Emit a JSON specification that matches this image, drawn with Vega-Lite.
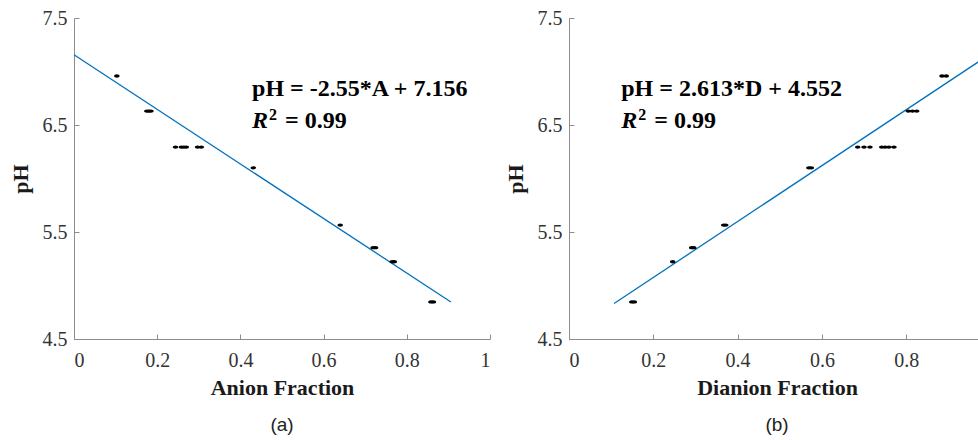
{
  "$schema": "https://vega.github.io/schema/vega-lite/v6.json",
  "padding": {"left": 9, "top": 8, "right": 0, "bottom": 0},
  "background": "white",
  "spacing": 13,
  "config": {
    "view": {"stroke": null},
    "font": "Liberation Serif",
    "axis": {
      "grid": false,
      "domainColor": "#8c8c8c",
      "tickColor": "#8c8c8c",
      "tickSize": -5,
      "labelFont": "Liberation Serif",
      "labelFontSize": 20,
      "labelColor": "#333333",
      "titleFont": "Liberation Serif",
      "titleFontSize": 22,
      "titleFontWeight": "bold",
      "titleColor": "#1a1a1a"
    },
    "title": {"font": "Liberation Sans", "fontSize": 19, "fontWeight": "normal", "color": "#222222", "orient": "bottom", "offset": 18}
  },
  "datasets": {
    "anion": [
      {"A": 0.103, "pH": 6.958},
      {"A": 0.175, "pH": 6.63}, {"A": 0.180, "pH": 6.63}, {"A": 0.185, "pH": 6.63},
      {"A": 0.244, "pH": 6.294}, {"A": 0.258, "pH": 6.294}, {"A": 0.264, "pH": 6.294}, {"A": 0.270, "pH": 6.294},
      {"A": 0.297, "pH": 6.294}, {"A": 0.306, "pH": 6.294},
      {"A": 0.431, "pH": 6.10},
      {"A": 0.640, "pH": 5.565},
      {"A": 0.719, "pH": 5.353}, {"A": 0.725, "pH": 5.353},
      {"A": 0.765, "pH": 5.222}, {"A": 0.770, "pH": 5.222},
      {"A": 0.858, "pH": 4.846}, {"A": 0.864, "pH": 4.846}
    ],
    "fitA": [{"A": 0, "pH": 7.156}, {"A": 0.906, "pH": 4.846}],
    "dianion": [
      {"D": 0.149, "pH": 4.846}, {"D": 0.155, "pH": 4.846},
      {"D": 0.246, "pH": 5.222},
      {"D": 0.291, "pH": 5.353}, {"D": 0.296, "pH": 5.353},
      {"D": 0.367, "pH": 5.565}, {"D": 0.372, "pH": 5.565},
      {"D": 0.569, "pH": 6.10}, {"D": 0.575, "pH": 6.10},
      {"D": 0.685, "pH": 6.294}, {"D": 0.700, "pH": 6.294}, {"D": 0.714, "pH": 6.294},
      {"D": 0.742, "pH": 6.294}, {"D": 0.750, "pH": 6.294}, {"D": 0.759, "pH": 6.294}, {"D": 0.771, "pH": 6.294},
      {"D": 0.805, "pH": 6.63}, {"D": 0.815, "pH": 6.63}, {"D": 0.825, "pH": 6.63},
      {"D": 0.885, "pH": 6.958}, {"D": 0.895, "pH": 6.958}
    ],
    "fitD": [{"D": 0.107, "pH": 4.832}, {"D": 0.987, "pH": 7.131}],
    "one": [{}]
  },
  "hconcat": [
    {
      "width": 416,
      "height": 321,
      "title": {"text": "(a)"},
      "layer": [
        {
          "data": {"name": "fitA"},
          "mark": {"type": "line", "color": "#0072BD", "strokeWidth": 1.3},
          "encoding": {
            "x": {"field": "A", "type": "quantitative", "scale": {"domain": [0, 1], "nice": false},
                  "axis": {"title": "Anion Fraction", "values": [0, 0.2, 0.4, 0.6, 0.8, 1], "format": "~g", "labelFont": "Liberation Serif", "labelPadding": 16, "titlePadding": 7}},
            "y": {"field": "pH", "type": "quantitative", "scale": {"domain": [4.5, 7.5], "nice": false, "zero": false},
                  "axis": {"title": "pH", "values": [4.5, 5.5, 6.5, 7.5], "format": ".1f", "labelFont": "Liberation Serif", "labelPadding": 12, "titlePadding": 10}}
          }
        },
        {
          "data": {"name": "anion"},
          "mark": {"type": "point", "filled": true, "color": "black", "opacity": 1, "size": 30,
                   "shape": "M -1 0 A 1 0.6 0 1 0 1 0 A 1 0.6 0 1 0 -1 0 Z"},
          "encoding": {
            "x": {"field": "A", "type": "quantitative"},
            "y": {"field": "pH", "type": "quantitative"}
          }
        },
        {
          "data": {"name": "one"},
          "mark": {"type": "text", "align": "left", "baseline": "alphabetic", "fontSize": 24, "fontWeight": "bold", "color": "black", "text": "pH = -2.55*A + 7.156"},
          "encoding": {"x": {"datum": 0.428, "type": "quantitative"}, "y": {"datum": 6.771, "type": "quantitative"}}
        },
        {
          "data": {"name": "one"},
          "mark": {"type": "text", "align": "left", "baseline": "alphabetic", "fontSize": 24, "fontWeight": "bold", "fontStyle": "italic", "color": "black", "text": "R"},
          "encoding": {"x": {"datum": 0.428, "type": "quantitative"}, "y": {"datum": 6.475, "type": "quantitative"}}
        },
        {
          "data": {"name": "one"},
          "mark": {"type": "text", "align": "left", "baseline": "alphabetic", "fontSize": 16, "fontWeight": "bold", "color": "black", "text": "2", "dx": 17, "dy": -8},
          "encoding": {"x": {"datum": 0.428, "type": "quantitative"}, "y": {"datum": 6.475, "type": "quantitative"}}
        },
        {
          "data": {"name": "one"},
          "mark": {"type": "text", "align": "left", "baseline": "alphabetic", "fontSize": 24, "fontWeight": "bold", "color": "black", "text": "= 0.99", "dx": 33},
          "encoding": {"x": {"datum": 0.428, "type": "quantitative"}, "y": {"datum": 6.475, "type": "quantitative"}}
        }
      ]
    },
    {
      "width": 416,
      "height": 321,
      "title": {"text": "(b)"},
      "layer": [
        {
          "data": {"name": "fitD"},
          "mark": {"type": "line", "color": "#0072BD", "strokeWidth": 1.3},
          "encoding": {
            "x": {"field": "D", "type": "quantitative", "scale": {"domain": [0, 0.987], "nice": false},
                  "axis": {"title": "Dianion Fraction", "values": [0, 0.2, 0.4, 0.6, 0.8], "format": "~g", "labelFont": "Liberation Serif", "labelPadding": 16, "titlePadding": 7}},
            "y": {"field": "pH", "type": "quantitative", "scale": {"domain": [4.5, 7.5], "nice": false, "zero": false},
                  "axis": {"title": "pH", "values": [4.5, 5.5, 6.5, 7.5], "format": ".1f", "labelFont": "Liberation Serif", "labelPadding": 12, "titlePadding": 10}}
          }
        },
        {
          "data": {"name": "dianion"},
          "mark": {"type": "point", "filled": true, "color": "black", "opacity": 1, "size": 30,
                   "shape": "M -1 0 A 1 0.6 0 1 0 1 0 A 1 0.6 0 1 0 -1 0 Z"},
          "encoding": {
            "x": {"field": "D", "type": "quantitative"},
            "y": {"field": "pH", "type": "quantitative"}
          }
        },
        {
          "data": {"name": "one"},
          "mark": {"type": "text", "align": "left", "baseline": "alphabetic", "fontSize": 24, "fontWeight": "bold", "color": "black", "text": "pH = 2.613*D + 4.552"},
          "encoding": {"x": {"datum": 0.124, "type": "quantitative"}, "y": {"datum": 6.771, "type": "quantitative"}}
        },
        {
          "data": {"name": "one"},
          "mark": {"type": "text", "align": "left", "baseline": "alphabetic", "fontSize": 24, "fontWeight": "bold", "fontStyle": "italic", "color": "black", "text": "R"},
          "encoding": {"x": {"datum": 0.124, "type": "quantitative"}, "y": {"datum": 6.475, "type": "quantitative"}}
        },
        {
          "data": {"name": "one"},
          "mark": {"type": "text", "align": "left", "baseline": "alphabetic", "fontSize": 16, "fontWeight": "bold", "color": "black", "text": "2", "dx": 17, "dy": -8},
          "encoding": {"x": {"datum": 0.124, "type": "quantitative"}, "y": {"datum": 6.475, "type": "quantitative"}}
        },
        {
          "data": {"name": "one"},
          "mark": {"type": "text", "align": "left", "baseline": "alphabetic", "fontSize": 24, "fontWeight": "bold", "color": "black", "text": "= 0.99", "dx": 33},
          "encoding": {"x": {"datum": 0.124, "type": "quantitative"}, "y": {"datum": 6.475, "type": "quantitative"}}
        }
      ]
    }
  ]
}
